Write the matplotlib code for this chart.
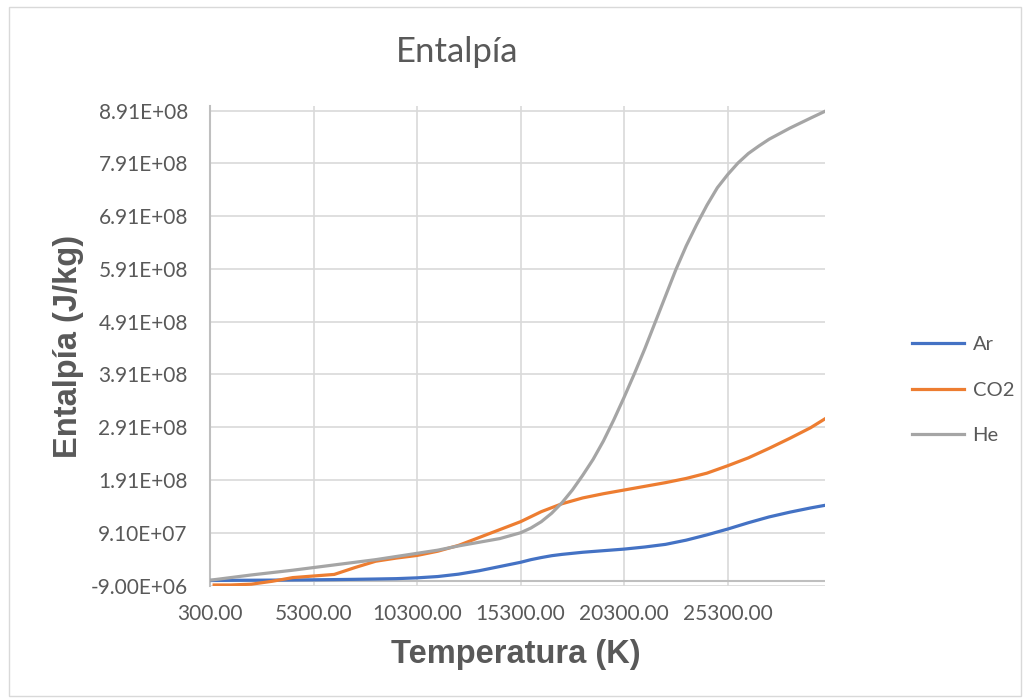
import matplotlib
matplotlib.use("Agg")
import matplotlib.pyplot as plt
from matplotlib.patches import Rectangle

## Données (enthalpie en J/kg)
temperatura = [300, 1300, 2300, 3300, 4300, 5300, 6300, 7300, 8300, 9300,
               10300, 11300, 12300, 13300, 14300, 15300, 15800, 16300, 16800, 17300, 18300, 19300,
               20300, 21300, 22300, 23300, 24300, 25300, 26300, 27300, 28300, 29300, 30000]

ar = [0.5e6, 0.8e6, 1.0e6, 1.2e6, 1.5e6, 1.8e6, 2.2e6, 2.7e6, 3.3e6, 4.0e6,
      5.5e6, 8.0e6, 12.5e6, 19e6, 27e6, 35e6, 40e6, 44e6, 47.5e6, 50e6, 54e6, 57e6,
      60e6, 64e6, 69e6, 77e6, 87e6, 98e6, 110e6, 121e6, 130e6, 138e6, 143e6]

temperatura_co2 = [500, 1300, 2300, 3300, 4300, 5300, 6300, 7300, 8300, 9300,
                   10300, 11300, 12300, 13300, 14300, 15300, 16300, 17300, 18300, 19300,
                   20300, 21300, 22300, 23300, 24300, 25300, 26300, 27300, 28300, 29300, 30000]

co2 = [-8e6, -8e6, -6.5e6, -1e6, 6e6, 9e6, 12e6, 25e6, 37e6, 43e6,
       48e6, 56e6, 67e6, 82e6, 97e6, 112e6, 131e6, 146e6, 157e6, 165e6,
       172e6, 179e6, 186e6, 194e6, 204e6, 218e6, 233e6, 251e6, 270e6, 290e6, 307e6]

temperatura_he = [300, 1300, 2300, 3300, 4300, 5300, 6300, 7300, 8300, 9300,
                  10300, 11300, 12300, 13300, 14300, 15300, 15800, 16300, 16800, 17300,
                  17800, 18300, 18800, 19300, 19800, 20300, 20800, 21300, 21800, 22300,
                  22800, 23300, 23800, 24300, 24800, 25300, 25800, 26300, 26800, 27300,
                  28300, 29300, 30000]

he = [1e6, 6e6, 11e6, 15.5e6, 20e6, 25e6, 30e6, 35e6, 40e6, 46e6,
      52e6, 58e6, 66e6, 73e6, 80e6, 91e6, 100e6, 112e6, 128e6, 148e6,
      172e6, 200e6, 230e6, 265e6, 305e6, 348e6, 393e6, 440e6, 490e6, 540e6,
      590e6, 635e6, 675e6, 712e6, 745e6, 770e6, 792e6, 810e6, 824e6, 837e6,
      858e6, 877e6, 890e6]

x_ticks = [300, 5300, 10300, 15300, 20300, 25300]
y_ticks = [-9e6 + k * 1e8 for k in range(10)]

gris_texte = "#595959"
police = "Lato"

fig = plt.figure(figsize=(10.26, 6.98), dpi=100)

## Cadre du graphique
fig.patches.append(Rectangle((9 / 1026, 2 / 698), 1012 / 1026, 689 / 698,
                             transform=fig.transFigure, fill=False,
                             edgecolor="#d9d9d9", linewidth=1))

ax = fig.add_axes([210 / 1026, 1 - 585.5 / 698, 615 / 1026, 479.5 / 698])

ax.plot(temperatura, ar, color="#4472C4", linewidth=2.3, label="Ar", zorder=3)
ax.plot(temperatura_co2, co2, color="#ED7D31", linewidth=2.3, label="CO2", zorder=3)
ax.plot(temperatura_he, he, color="#A5A5A5", linewidth=2.3, label="He", zorder=3)

ax.set_xlim(300, 30000)
ax.set_ylim(-9e6, 9e8)
ax.set_xticks(x_ticks)
ax.set_yticks(y_ticks)
ax.set_xticklabels(["%.2f" % t for t in x_ticks], fontsize=15, color=gris_texte, family=police)
ax.set_yticklabels(["%.2E" % v for v in y_ticks], fontsize=15, color=gris_texte, family=police)
ax.tick_params(axis="both", length=0)
ax.tick_params(axis="x", pad=13)
ax.tick_params(axis="y", pad=16)

ax.grid(True, color="#d9d9d9", linewidth=1.2)
ax.set_axisbelow(True)
ax.axhline(0, color="#bfbfbf", linewidth=1.5, zorder=2)

for cote in ["top", "right", "bottom"]:
    ax.spines[cote].set_visible(False)
ax.spines["left"].set_color("#bfbfbf")
ax.spines["left"].set_linewidth(1.5)

fig.text(457 / 1026, 1 - 52 / 698, "Entalpía", fontsize=25, color=gris_texte,
         family=police, ha="center", va="center")
fig.text(516 / 1026, 1 - 654 / 698, "Temperatura (K)", fontsize=23.5, color=gris_texte,
         family="Liberation Sans", fontweight="bold", ha="center", va="center")
fig.text(68 / 1026, 1 - 346 / 698, "Entalpía (J/kg)", fontsize=23.5, color=gris_texte,
         family="Liberation Sans", fontweight="bold", ha="center", va="center",
         rotation=90)

leg = ax.legend(loc="center left", bbox_to_anchor=(894 / 1026, 1 - 390 / 698),
                bbox_transform=fig.transFigure, frameon=False, handlelength=2.6,
                handletextpad=0.4, labelspacing=1.4, prop={"family": police, "size": 14.5})
for t in leg.get_texts():
    t.set_color(gris_texte)

fig.savefig("out.png", dpi=100)
